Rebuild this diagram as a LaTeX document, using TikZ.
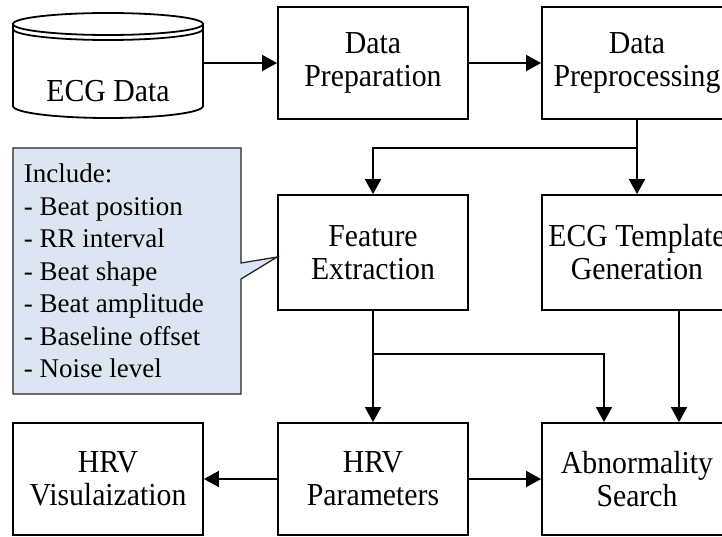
\documentclass[tikz,border=0pt]{standalone}
\usepackage{fontspec}
\setmainfont{Liberation Serif}
\newfontfamily\boxfont[FakeStretch=0.93]{Liberation Serif}
\usetikzlibrary{arrows.meta,calc}
\definecolor{noteblue}{RGB}{220,230,242}
\begin{document}
\begin{tikzpicture}[x=1pt,y=-1pt,
  line width=1.8pt,
  box/.style={draw, line width=1.8pt, minimum width=190pt, minimum height=112pt,
    inner sep=0pt, align=center, font=\boxfont\fontsize{32}{33}\selectfont},
  arr/.style={-{Triangle[length=15pt,width=16pt]}, line width=1.8pt},
  note/.style={align=left, inner sep=0pt, anchor=north west,
    font=\fontsize{27}{32.5}\selectfont}]
\useasboundingbox (0,0) rectangle (722,537);
\clip (0,0) rectangle (722,537);

% database cylinder
\node[minimum width=190pt, minimum height=105pt, inner sep=0pt,
  text height=78pt, text depth=0pt, font=\boxfont\fontsize{32}{33}\selectfont]
  (ecg) at (108,63) {ECG Data};
\begin{scope}[line width=1.8pt]
  \draw (13,24) -- (13,106) arc[start angle=180, end angle=0, x radius=95, y radius=12] -- (203,24);
  \draw (108,24) ellipse [x radius=95, y radius=11];
  \draw (13,29) arc[start angle=180, end angle=0, x radius=95, y radius=11];
\end{scope}

% process boxes
\node[box] (prep)    at (373,63)  {Data\\Preparation};
\node[box] (preproc) at (637,63)  {Data\\Preprocessing};
\node[box, minimum height=115pt] (feat) at (373,252.5) {Feature\\Extraction};
\node[box, minimum height=115pt] (tmpl) at (637,252.5) {ECG Template\\Generation};
\node[box] (hrvv) at (108,479) {HRV\\Visulaization};
\node[box] (hrvp) at (373,479) {HRV\\Parameters};
\node[box] (abn)  at (637,479) {Abnormality\\Search};

% callout listing the extracted features
\draw[fill=noteblue, line width=1.3pt, draw=black!85]
  (13,148) -- (241,148) -- (241,263) -- (feat.west |- 0,257) -- (241,279)
  -- (241,394) -- (13,394) -- cycle;
\node[note] (features) at (23,163) {Include:\\- Beat position\\- RR interval\\- Beat shape\\- Beat amplitude\\- Baseline offset\\- Noise level};

% connectors
\draw[arr] (ecg.east) -- (prep.west);
\draw[arr] (prep.east) -- (preproc.west);
\coordinate (split1) at ($(preproc.south)+(0,28)$);
\draw[arr] (preproc.south) -- (tmpl.north);
\draw[arr] (split1) -| (feat.north);
\coordinate (split2) at ($(feat.south)+(0,43)$);
\draw[arr] (feat.south) -- (hrvp.north);
\draw[arr] (split2) -| ([xshift=-33pt]abn.north);
\draw[arr] ([xshift=42pt]tmpl.south) -- ([xshift=42pt]abn.north);
\draw[arr] (hrvp.west) -- (hrvv.east);
\draw[arr] (hrvp.east) -- (abn.west);
\end{tikzpicture}
\end{document}
